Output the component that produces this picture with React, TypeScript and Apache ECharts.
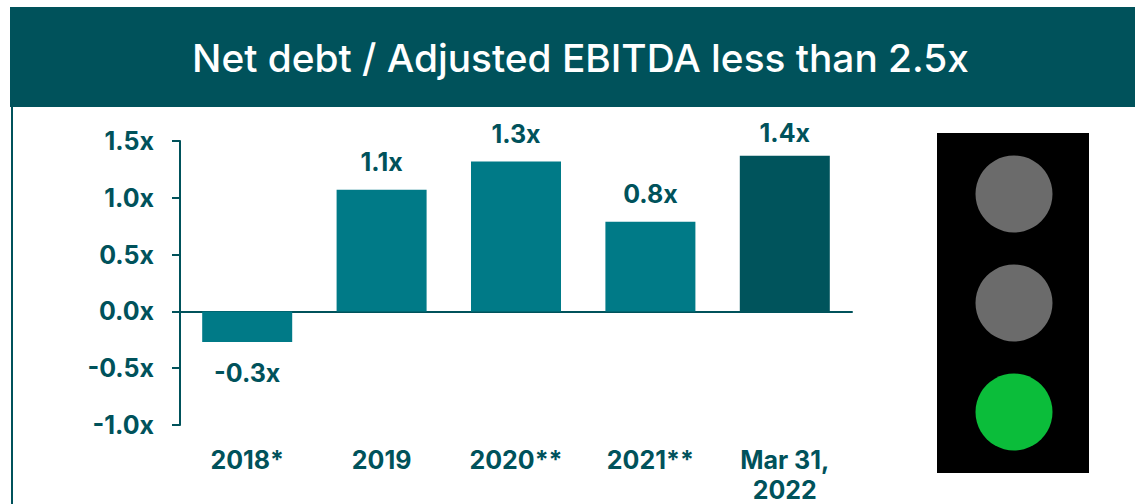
import React, { useEffect, useRef } from "react";
import * as echarts from "echarts";

const titleText = "Net debt / Adjusted EBITDA less than 2.5x";
const categories = ["2018*", "2019", "2020**", "2021**", "Mar 31,\n2022"];
const values = [-0.27, 1.07, 1.32, 0.79, 1.37];
const valueLabels = ["-0.3x", "1.1x", "1.3x", "0.8x", "1.4x"];
const labelGaps = [18, 15, 15, 15, 10];
const barColors = ["#007A87", "#007A87", "#007A87", "#007A87", "#00545C"];
const yTicks = { min: -1, max: 1.5, interval: 0.5 };

const DARK = "#00525B";
const FONT = "Inter";

export default function App() {
  const ref = useRef<HTMLDivElement>(null);
  useEffect(() => {
    document.body.style.margin = "0";
    const chart = echarts.init(ref.current!, undefined, { renderer: "svg" });
    chart.setOption({
      animation: false,
      backgroundColor: "#ffffff",
      title: {
        text: titleText,
        left: 575.5,
        top: 33,
        textAlign: "center",
        textStyle: { color: "#ffffff", fontFamily: FONT, fontSize: 38.8, fontWeight: 500 },
      },
      grid: { left: 180, right: 283, top: 141, bottom: 79, outerBoundsMode: "none" },
      xAxis: [
        {
          type: "category",
          data: categories,
          position: "bottom",
          axisLine: { show: false, onZero: false },
          axisTick: { show: false },
          axisLabel: {
            color: DARK,
            fontFamily: FONT,
            fontSize: 25,
            fontWeight: 700,
            lineHeight: 30,
            margin: 20,
            interval: 0,
          },
        },
        {
          type: "category",
          data: categories,
          position: "bottom",
          axisLine: { show: true, onZero: true, lineStyle: { color: DARK, width: 2 } },
          axisTick: { show: false },
          axisLabel: { show: false },
        },
      ],
      yAxis: {
        type: "value",
        min: yTicks.min,
        max: yTicks.max,
        interval: yTicks.interval,
        axisLine: { show: true, lineStyle: { color: DARK, width: 2 } },
        axisTick: { show: true, length: 8, lineStyle: { color: DARK, width: 2 } },
        splitLine: { show: false },
        axisLabel: {
          color: DARK,
          fontFamily: FONT,
          fontSize: 25,
          fontWeight: 700,
          margin: 26,
          formatter: (v: number) => v.toFixed(1) + "x",
        },
      },
      series: [
        {
          type: "bar",
          barWidth: 90,
          xAxisIndex: 0,
          data: values.map((v, i) => ({
            value: v,
            itemStyle: { color: barColors[i] },
            label: { distance: labelGaps[i] },
          })),
          label: {
            show: true,
            position: "outside",
            color: DARK,
            fontFamily: FONT,
            fontSize: 25,
            fontWeight: 700,
            formatter: (p: any) => valueLabels[p.dataIndex],
          },
        },
      ],
      graphic: [
        { type: "rect", z: 0, shape: { x: 10, y: 7, width: 1125, height: 100 }, style: { fill: DARK } },
        { type: "line", z: 0, shape: { x1: 12, y1: 107, x2: 12, y2: 504 }, style: { stroke: DARK, lineWidth: 2 } },
        { type: "rect", z: 0, shape: { x: 937, y: 133, width: 152, height: 340 }, style: { fill: "#000000" } },
        { type: "circle", z: 1, shape: { cx: 1014, cy: 194, r: 38.5 }, style: { fill: "#6B6B6B" } },
        { type: "circle", z: 1, shape: { cx: 1014, cy: 303, r: 38.5 }, style: { fill: "#6B6B6B" } },
        { type: "circle", z: 1, shape: { cx: 1014, cy: 412, r: 38.5 }, style: { fill: "#0BBD3A" } },
      ],
    });
    return () => chart.dispose();
  }, []);
  return <div ref={ref} style={{ width: 1135, height: 504 }} />;
}
